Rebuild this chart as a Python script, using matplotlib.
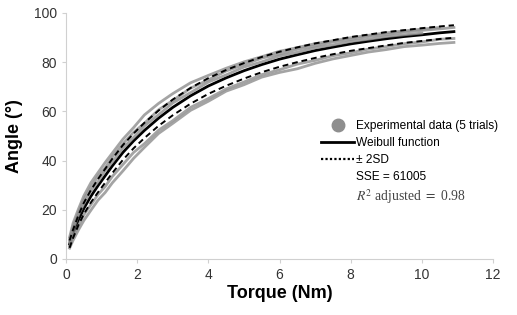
import numpy as np
import matplotlib.pyplot as plt
from matplotlib.lines import Line2D

plt.rcParams['font.family'] = ['Liberation Sans', 'DejaVu Sans']
plt.rcParams['mathtext.fontset'] = 'stix'

nan = np.nan

torque = [0.1, 0.2, 0.35, 0.5, 0.7, 0.9, 1.1, 1.3, 1.6, 1.9, 2.2, 2.6, 3.0, 3.5, 4.0,
          4.5, 5.0, 5.5, 6.0, 6.5, 7.0, 7.5, 8.0, 8.5, 9.0, 9.5, 10.0, 10.5, 10.9]

# experimental trials
trial_1 = [8.8, 14.6, 20.3, 25.6, 31.0, 35.1, 39.2, 43.0, 48.7, 53.4, 58.5, 63.2, 67.2, 71.6, 74.6,
           77.5, 80.1, 82.2, 84.4, 85.9, 87.5, 88.7, 89.9, 90.9, 91.9, 92.7, 93.4, 94.1, nan]
trial_2 = [7.9, 13.2, 18.8, 24.2, 29.1, 33.6, 37.1, 41.4, 46.8, 51.5, 55.1, 60.6, 64.4, 69.4, 72.8,
           76.4, 79.0, 81.6, 83.3, 85.2, 86.6, 88.2, 89.2, 90.4, 91.2, 92.2, 92.9, 93.5, 94.1]
trial_3 = [7.0, 11.8, 17.9, 22.4, 27.6, 31.4, 35.9, 39.4, 45.1, 49.4, 54.0, 58.6, 63.4, 67.6, 71.9,
           74.8, 78.0, 80.1, 82.5, 84.0, 85.8, 87.0, 88.4, 89.3, 90.4, 91.1, 91.8, nan, nan]
trial_4 = [5.2, 9.1, 13.6, 17.9, 22.1, 26.2, 29.4, 33.5, 38.4, 43.3, 46.8, 52.3, 56.2, 61.6, 65.2,
           69.1, 71.9, 74.9, 76.9, 79.2, 80.7, 82.6, 83.8, 85.3, 86.3, 87.5, 88.2, 89.3, 89.6]
trial_5 = [4.4, 7.6, 11.8, 15.6, 19.8, 23.9, 27.0, 30.9, 35.8, 40.9, 45.3, 51.0, 55.1, 60.4, 64.1,
           68.2, 70.8, 73.9, 75.8, 77.3, 79.5, 81.3, 82.7, 84.1, 85.1, 86.3, 86.9, 87.6, 88.0]

# Weibull fit and +/- 2SD band
weibull = [6.0, 10.3, 15.8, 20.5, 25.5, 29.8, 33.8, 37.8, 43.3, 48.0, 52.2, 57.2, 61.6, 66.3, 70.3,
           73.6, 76.5, 79.0, 81.2, 83.0, 84.7, 86.1, 87.4, 88.5, 89.5, 90.4, 91.1, 91.9, 92.4]
upper_2sd = [7.5, 12.0, 17.8, 22.8, 28.0, 32.5, 36.6, 40.7, 46.3, 51.0, 55.3, 60.3, 64.8, 69.5, 73.5,
             76.8, 79.6, 82.1, 84.2, 86.0, 87.6, 88.9, 90.2, 91.2, 92.2, 93.0, 93.8, 94.5, 95.0]
lower_2sd = [4.5, 8.6, 13.8, 18.2, 23.0, 27.1, 31.0, 34.9, 40.3, 45.0, 49.1, 54.1, 58.4, 63.1, 67.1,
             70.4, 73.3, 75.9, 78.1, 80.0, 81.7, 83.2, 84.6, 85.7, 86.8, 87.8, 88.6, 89.4, 89.9]

trials = [trial_1, trial_2, trial_3, trial_4, trial_5]
gray = '#8e8e8e'

fig = plt.figure(figsize=(5.17, 3.15), dpi=100)
ax = fig.add_axes([0.1277, 0.178, 0.826, 0.781])

ax.plot(torque, weibull, color='black', lw=2.0, zorder=2)
for tr in trials:
    ax.plot(torque, tr, color=gray, lw=2.0, alpha=0.8, zorder=3)
ax.plot(torque, upper_2sd, color='black', lw=1.4, ls=(0, (3, 2)), zorder=4)
ax.plot(torque, lower_2sd, color='black', lw=1.4, ls=(0, (3, 2)), zorder=4)

ax.set_xlim(0, 12)
ax.set_ylim(0, 100)
ax.set_xticks(range(0, 13, 2))
ax.set_yticks(range(0, 101, 20))
ax.set_xlabel('Torque (Nm)', fontsize=13, fontweight='bold', labelpad=2)
ax.set_ylabel('Angle (°)', fontsize=13, fontweight='bold', labelpad=8)
ax.tick_params(labelsize=10, colors='#d0d0d0', labelcolor='#333333', length=3)
for s in ['top', 'right']:
    ax.spines[s].set_visible(False)
for s in ['left', 'bottom']:
    ax.spines[s].set_color('#d0d0d0')

handles = [
    Line2D([], [], ls='none', marker='o', ms=9, color=gray),
    Line2D([], [], color='black', lw=2.0),
    Line2D([], [], color='black', lw=1.6, ls=(0, (1, 1))),
    Line2D([], [], color='none'),
    Line2D([], [], color='none'),
]
labels = ['Experimental data (5 trials)', 'Weibull function', '± 2SD', 'SSE = 61005',
          r'$R^2$ adjusted $=$ 0.98']
leg = ax.legend(handles, labels, loc='upper left', bbox_to_anchor=(0.598, 0.563),
                frameon=False, fontsize=8.6, handlelength=2.7, handletextpad=0.2,
                labelspacing=0.4, borderpad=0, borderaxespad=0)
leg.get_texts()[4].set_fontfamily('Liberation Serif')
leg.get_texts()[4].set_fontsize(9.8)
leg.get_texts()[4].set_color('#444444')

fig.savefig('out.png', dpi=100)
